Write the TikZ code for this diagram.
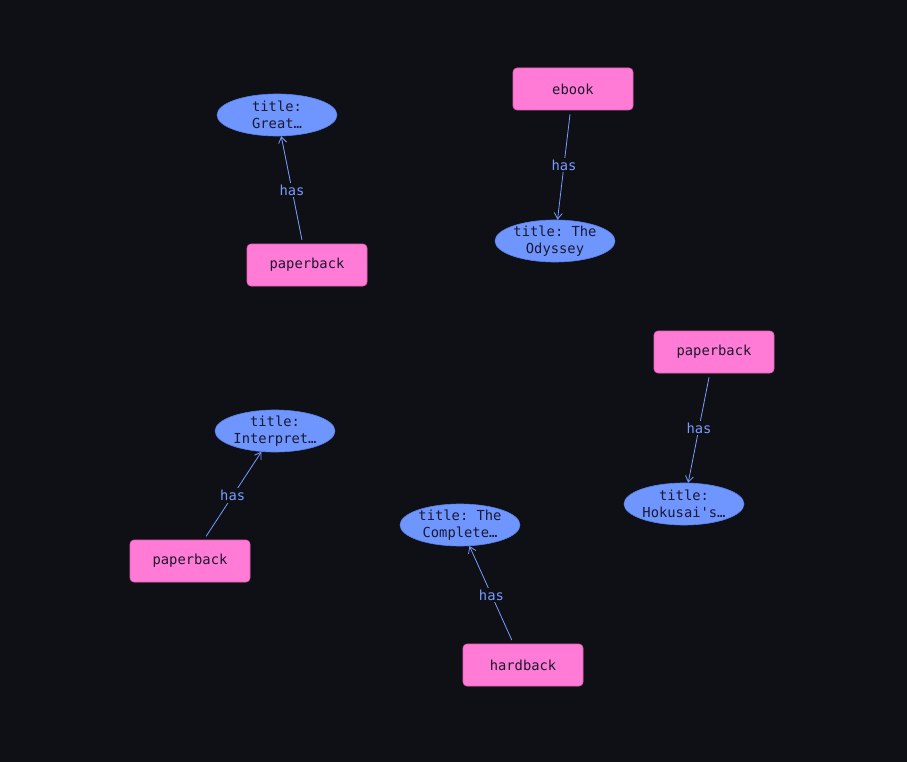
\documentclass[tikz,border=0pt]{standalone}
\usepackage{fontspec}
\setmonofont{DejaVu Sans Mono}
\usepackage{xcolor}
\usetikzlibrary{shapes.geometric, arrows.meta}

\definecolor{bgdark}{HTML}{0F0F16}
\definecolor{formatpink}{HTML}{FF7BD5}
\definecolor{formatedge}{HTML}{E062B6}
\definecolor{titleblue}{HTML}{6F96FF}
\definecolor{titleedge}{HTML}{5C82EC}
\definecolor{linkblue}{HTML}{7A9CFF}
\definecolor{inkdark}{HTML}{1B1830}

\begin{document}
\begin{tikzpicture}[
    x=1pt, y=-1pt,
    format/.style={rectangle, draw=formatedge, line width=0.6pt, fill=formatpink, rounded corners=4pt,
        minimum width=120pt, minimum height=42pt, inner sep=0pt, text=inkdark,
        font=\ttfamily\fontsize{13.8}{17}\selectfont},
    booktitle/.style={ellipse, draw=titleedge, line width=0.6pt, fill=titleblue, minimum width=120pt,
        minimum height=42pt, inner xsep=0pt, inner ysep=-4pt, align=center, text=inkdark,
        font=\ttfamily\fontsize{13.8}{17}\selectfont},
    link/.style={draw=linkblue, line width=0.8pt, shorten <=4pt,
        -{Straight Barb[length=6pt, width=8pt]}},
    rel/.style={midway, fill=bgdark, inner sep=2pt, text=linkblue,
        font=\ttfamily\fontsize{13.8}{17}\selectfont},
]
\fill[bgdark] (0,0) rectangle (907,762);
\useasboundingbox (0,0) rectangle (907,762);

% formats and their titles
\node[booktitle] (great) at (277,115) {title:\\Great…};
\node[format] (paper1) at (307,265) {paperback};

\node[format] (ebook) at (573,89) {ebook};
\node[booktitle] (odyssey) at (555,241) {title: The\\Odyssey};

\node[format] (paper2) at (714,352) {paperback};
\node[booktitle] (hokusai) at (684,504) {title:\\Hokusai's…};

\node[booktitle] (interp) at (275,431) {title:\\Interpret…};
\node[format] (paper3) at (190,561) {paperback};

\node[booktitle] (complete) at (460,525) {title: The\\Complete…};
\node[format] (hard) at (523,665) {hardback};

% has-links
\draw[link] (paper1) -- node[rel] {has} (great);
\draw[link] (ebook) -- node[rel] {has} (odyssey);
\draw[link] (paper2) -- node[rel] {has} (hokusai);
\draw[link] (paper3) -- node[rel] {has} (interp);
\draw[link] (hard) -- node[rel] {has} (complete);
\end{tikzpicture}
\end{document}
